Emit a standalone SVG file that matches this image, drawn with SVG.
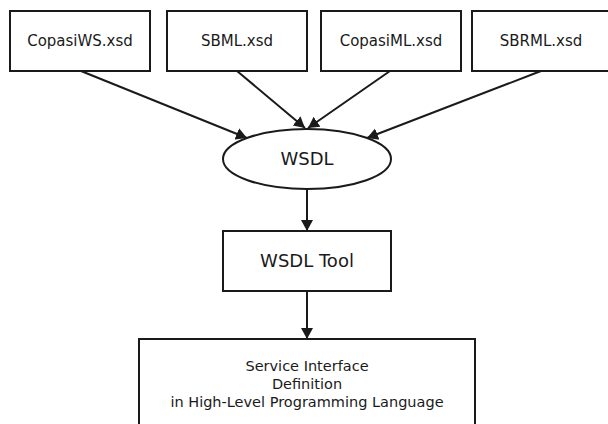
<svg xmlns="http://www.w3.org/2000/svg" width="608" height="424" viewBox="0 0 608 424">
<style>
.box{fill:#fff;stroke:#1a1a1a;stroke-width:2}
.t{font-family:"DejaVu Sans",sans-serif;fill:#1a1a1a;text-anchor:middle}
.s15{font-size:15px}
.s18{font-size:18px}
.s14{font-size:14.5px}
.edge{stroke:#1a1a1a;stroke-width:2;fill:none;marker-end:url(#arr)}
</style>
<defs>
<marker id="arr" markerUnits="userSpaceOnUse" markerWidth="14" markerHeight="14" viewBox="0 0 14 14" refX="11" refY="7" orient="auto">
<path d="M0,1 L11,7 L0,13 Z" fill="#1a1a1a"/>
</marker>
</defs>
<rect width="608" height="424" fill="#fff"/>
<g id="connectors">
<line class="edge" x1="81" y1="71" x2="247" y2="138"/>
<line class="edge" x1="237" y1="71" x2="305" y2="128"/>
<line class="edge" x1="390" y1="71" x2="308" y2="128"/>
<line class="edge" x1="541" y1="71" x2="367" y2="138"/>
<line class="edge" x1="307" y1="189" x2="307" y2="231"/>
<line class="edge" x1="307" y1="291" x2="307" y2="339"/>
</g>
<g id="copasiws">
<rect class="box" x="10" y="11" width="140" height="60"/>
<text class="t s15" x="80" y="46">CopasiWS.xsd</text>
</g>
<g id="sbml">
<rect class="box" x="167" y="11" width="140" height="60"/>
<text class="t s15" x="237" y="46">SBML.xsd</text>
</g>
<g id="copasiml">
<rect class="box" x="321" y="11" width="140" height="60"/>
<text class="t s15" x="391" y="46">CopasiML.xsd</text>
</g>
<g id="sbrml">
<rect class="box" x="472" y="11" width="140" height="60"/>
<text class="t s15" x="541" y="46">SBRML.xsd</text>
</g>
<g id="wsdl">
<ellipse class="box" cx="307" cy="159" rx="84" ry="30"/>
<text class="t s18" x="307" y="165">WSDL</text>
</g>
<g id="wsdltool">
<rect class="box" x="223" y="231" width="168" height="60"/>
<text class="t s18" x="307" y="267">WSDL Tool</text>
</g>
<g id="service">
<rect class="box" x="139" y="339" width="336" height="100"/>
<text class="t s14" x="307" y="371">Service Interface</text>
<text class="t s14" x="307" y="389">Definition</text>
<text class="t s14" x="307" y="407">in High-Level Programming Language</text>
</g>
</svg>
